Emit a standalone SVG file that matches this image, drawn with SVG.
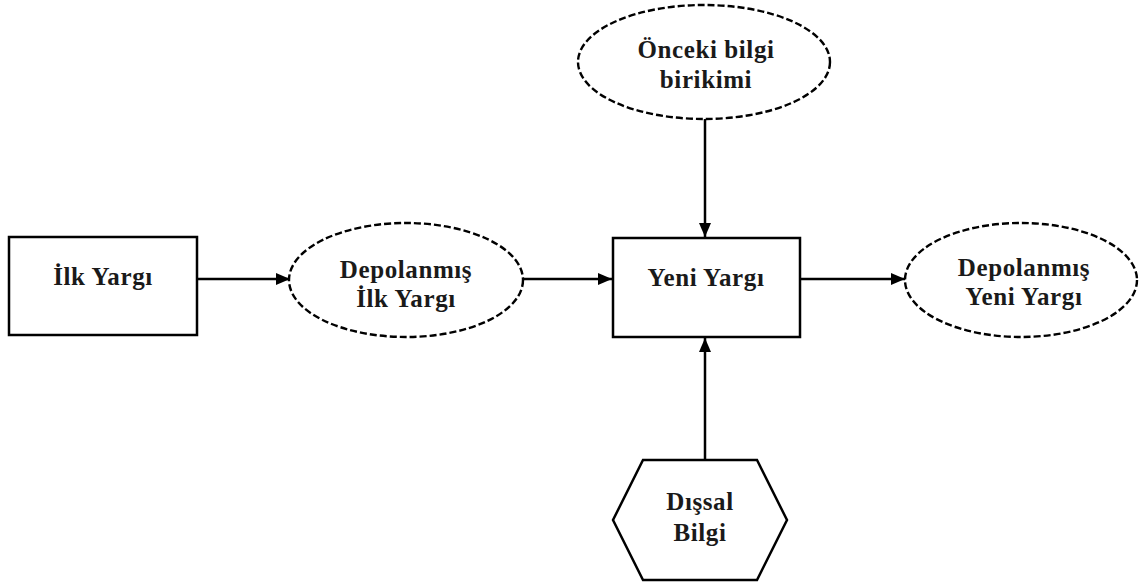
<svg xmlns="http://www.w3.org/2000/svg" width="1139" height="585" viewBox="0 0 1139 585">
  <style>
    .box { fill: #ffffff; stroke: #000000; stroke-width: 2.5; }
    .store { fill: #ffffff; stroke: #000000; stroke-width: 2.4; stroke-dasharray: 7 3; }
    .link { fill: none; stroke: #000000; stroke-width: 2.5; }
    .label { font-family: "Liberation Serif", "Times New Roman", serif; font-weight: bold; font-size: 25px; letter-spacing: 0.6px; fill: #1a1a1a; text-anchor: middle; }
  </style>
  <defs>
    <marker id="arrow" markerUnits="userSpaceOnUse" markerWidth="15" markerHeight="12" refX="14" refY="6" orient="auto">
      <path d="M0,0 L14,6 L0,12 Z" fill="#000000"/>
    </marker>
  </defs>
  <rect width="1139" height="585" fill="#ffffff"/>

  <g id="connectors">
    <line class="link" x1="197" y1="279" x2="290" y2="279" marker-end="url(#arrow)"/>
    <line class="link" x1="523" y1="279" x2="612" y2="279" marker-end="url(#arrow)"/>
    <line class="link" x1="800" y1="279" x2="905" y2="279" marker-end="url(#arrow)"/>
    <line class="link" x1="705" y1="119" x2="705" y2="237" marker-end="url(#arrow)"/>
    <line class="link" x1="705" y1="460" x2="705" y2="338" marker-end="url(#arrow)"/>
  </g>

  <g id="ilk-yargi">
    <rect class="box" x="9" y="237" width="188" height="98"/>
    <text class="label" x="103" y="285">İlk Yargı</text>
  </g>

  <g id="depolanmis-ilk-yargi">
    <ellipse class="store" cx="406" cy="280" rx="117" ry="57"/>
    <text class="label" x="406" y="278">Depolanmış</text>
    <text class="label" x="406" y="307">İlk Yargı</text>
  </g>

  <g id="yeni-yargi">
    <rect class="box" x="613" y="238" width="187" height="99"/>
    <text class="label" x="706" y="286">Yeni Yargı</text>
  </g>

  <g id="depolanmis-yeni-yargi">
    <ellipse class="store" cx="1021" cy="280" rx="116" ry="57"/>
    <text class="label" x="1024" y="276">Depolanmış</text>
    <text class="label" x="1024" y="305">Yeni Yargı</text>
  </g>

  <g id="onceki-bilgi">
    <ellipse class="store" cx="704" cy="62" rx="126" ry="57"/>
    <text class="label" x="706" y="58">Önceki bilgi</text>
    <text class="label" x="706" y="88">birikimi</text>
  </g>

  <g id="dissal-bilgi">
    <polygon class="box" points="643,460 757,460 787,520 757,580 643,580 613,520"/>
    <text class="label" x="700" y="510">Dışsal</text>
    <text class="label" x="700" y="541">Bilgi</text>
  </g>
</svg>
